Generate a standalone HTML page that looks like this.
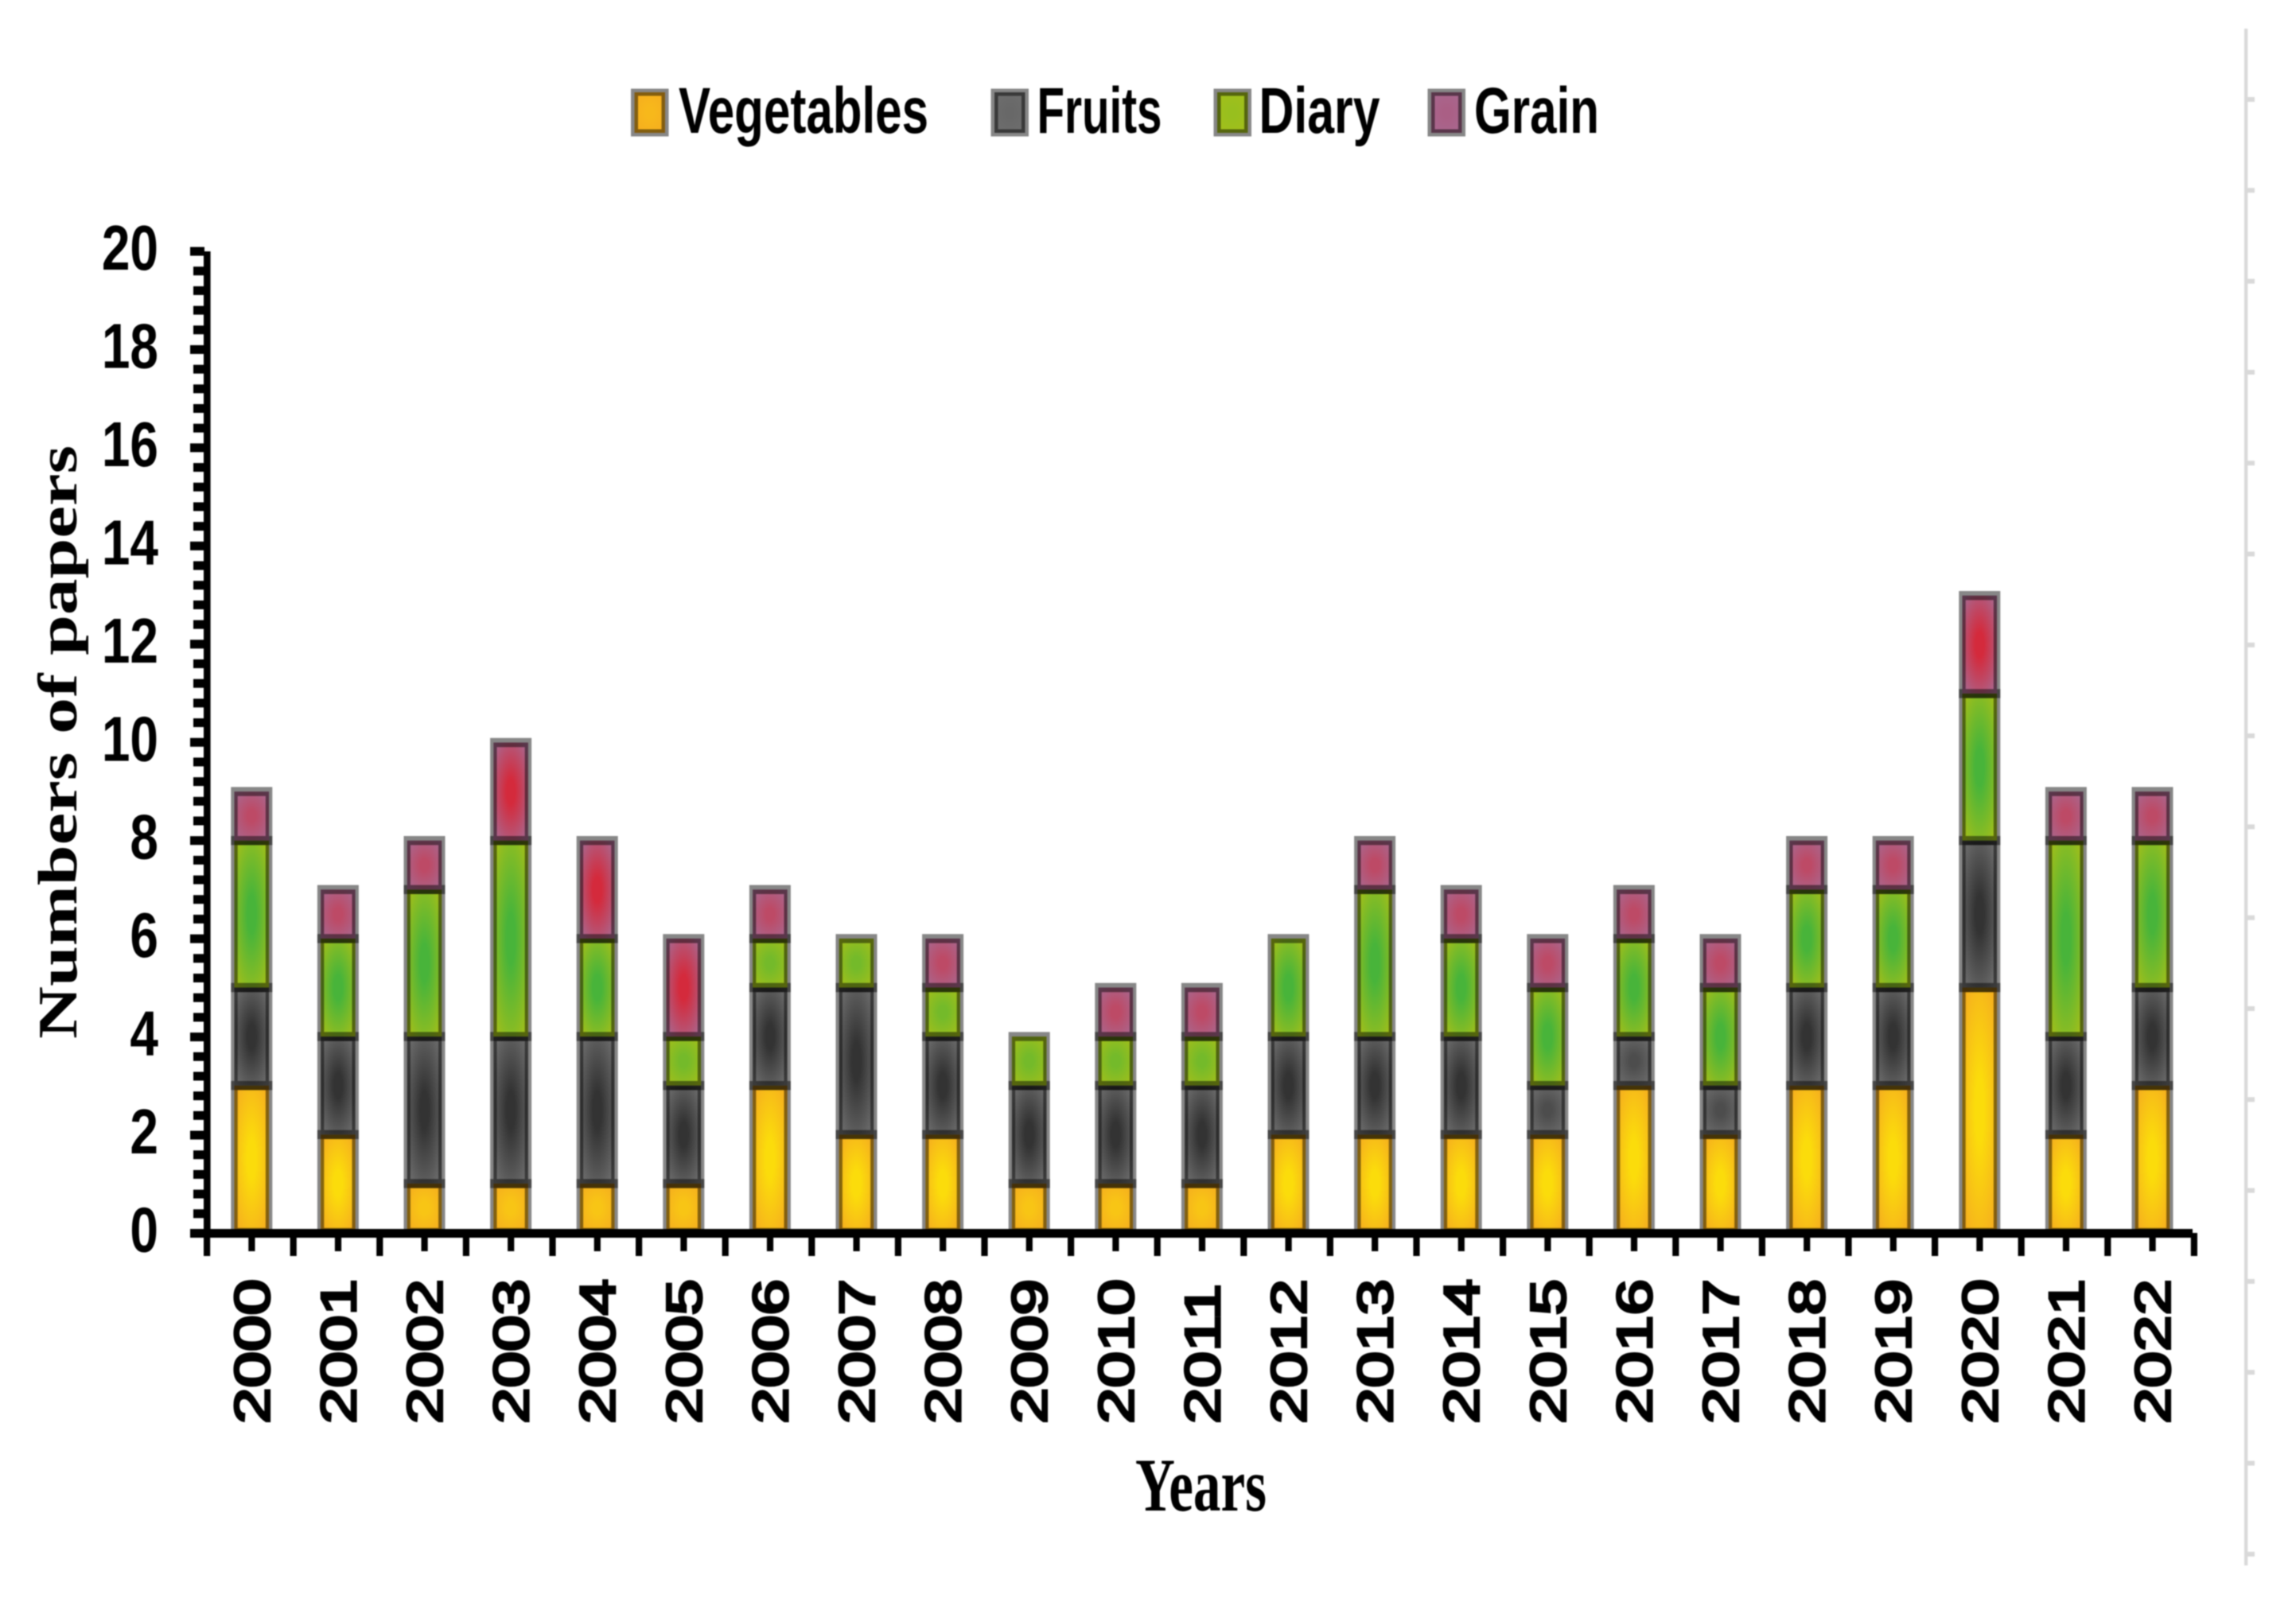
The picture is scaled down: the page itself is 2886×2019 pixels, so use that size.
<!DOCTYPE html>
<html lang="en">
<head>
<meta charset="utf-8">
<title>Numbers of papers by year</title>
<style>
  html, body { margin: 0; padding: 0; background: #fff; }
  #chart { display: block; width: 2886px; height: 2019px; filter: blur(0.7px); }
  .sans { font-family: "Liberation Sans", sans-serif; font-weight: 700; fill: #000; }
  .sans-light { font-family: "Liberation Sans", sans-serif; font-weight: 400; fill: #000; stroke: #000; stroke-width: 3.2; }
  .serif { font-family: "Liberation Serif", serif; font-weight: 700; fill: #000; }
</style>
</head>
<body>
<svg id="chart" xmlns="http://www.w3.org/2000/svg" width="2886" height="2019" viewBox="0 0 2886 2019">
  <defs id="defs"></defs>
  <rect x="0" y="0" width="2886" height="2019" fill="#fff"></rect>

  <g id="marks"></g>
  <g id="axes"></g>

  <g>
    <g>
      <rect x="797.5" y="116" width="38.5" height="51" fill="url(#legend-vegetables)" stroke="#000" stroke-opacity="0.47" stroke-width="9"></rect>
      <text class="sans" x="853" y="167" font-size="82" textLength="314" lengthAdjust="spacingAndGlyphs">Vegetables</text>
    </g>
    <g>
      <rect x="1250" y="116" width="38.5" height="51" fill="url(#legend-fruits)" stroke="#000" stroke-opacity="0.47" stroke-width="9"></rect>
      <text class="sans" x="1303.5" y="167" font-size="82" textLength="157" lengthAdjust="spacingAndGlyphs">Fruits</text>
    </g>
    <g>
      <rect x="1530" y="116" width="38.5" height="51" fill="url(#legend-diary)" stroke="#000" stroke-opacity="0.47" stroke-width="9"></rect>
      <text class="sans" x="1582.5" y="167" font-size="82" textLength="152" lengthAdjust="spacingAndGlyphs">Diary</text>
    </g>
    <g>
      <rect x="1799" y="116" width="38.5" height="51" fill="url(#legend-grain)" stroke="#000" stroke-opacity="0.47" stroke-width="9"></rect>
      <text class="sans" x="1853" y="167" font-size="82" textLength="157" lengthAdjust="spacingAndGlyphs">Grain</text>
    </g>
  </g>

  <text class="serif" transform="translate(96,1306) rotate(-90)" font-size="70" textLength="746" lengthAdjust="spacingAndGlyphs">Numbers of papers</text>
  <text class="serif" x="1427" y="1899" font-size="95" textLength="165" lengthAdjust="spacingAndGlyphs">Years</text>

  <g id="side-rule"></g>
</svg>

<script>
const years = ["2000","2001","2002","2003","2004","2005","2006","2007","2008","2009","2010","2011","2012","2013","2014","2015","2016","2017","2018","2019","2020","2021","2022"];
const vegetables = [3,2,1,1,1,1,3,2,2,1,1,1,2,2,2,2,3,2,3,3,5,2,3];
const fruits     = [2,2,3,3,3,2,2,3,2,2,2,2,2,2,2,1,1,1,2,2,3,2,2];
const diary      = [3,2,3,4,2,1,1,1,1,1,1,1,2,3,2,2,2,2,2,2,3,4,3];
const grain      = [1,1,1,2,2,2,1,0,1,0,1,1,0,1,1,1,1,1,1,1,2,1,1];
const yTickLabels = [0,2,4,6,8,10,12,14,16,18,20];

const seriesNames = ["vegetables","fruits","diary","grain"];
const seriesValues = [vegetables, fruits, diary, grain];
const edgeColors = ["#f5ad1f","#6e6e6e","#a3bf1a","#a8688f"];
const centerColors = ["#fbdc0b","#333333","#48b43a","#d42a3c"];
const smallCenterColors = ["#f8c515","#4d4d4d","#74ba2a","#bd4a66"];
const legendCenterColors = ["#f7b81b","#686868","#98bf1e","#aa5f85"];

const SVG_NS = "http://www.w3.org/2000/svg";
const defs = document.getElementById("defs");
const marks = document.getElementById("marks");
const axes = document.getElementById("axes");
const sideRule = document.getElementById("side-rule");

const yMax = 20;
const plotBottom = 1549.5;
const unitHeight = 61.6;
const axisBottom = 1550.5;
const axisTop = 316;
const firstCenter = 316.3;
const categoryStep = 108.6;
const barWidth = 43.6;
const axisLeft = 260;
const borderX = 4.2;
const borderY = 5.7;

function yScale(v) { return plotBottom - v * unitHeight; }
function yAxisScale(v) { return axisBottom - (v / yMax) * (axisBottom - axisTop); }
function xCenter(i) { return firstCenter + i * categoryStep; }
function xBoundary(i) { return axisLeft + i * categoryStep; }

function make(tag, attrs, parent) {
  const el = document.createElementNS(SVG_NS, tag);
  for (const k in attrs) el.setAttribute(k, attrs[k]);
  parent.appendChild(el);
  return el;
}

function addGradient(id, center, edge, plateau) {
  const g = make("radialGradient", { id: id, cx: "50%", cy: "50%", r: "64%" }, defs);
  make("stop", { offset: "0%", "stop-color": center }, g);
  make("stop", { offset: plateau, "stop-color": center }, g);
  make("stop", { offset: "100%", "stop-color": edge }, g);
}

function rectPath(x0, y0, x1, y1) {
  return "M" + x0 + " " + y0 + "H" + x1 + "V" + y1 + "H" + x0 + "Z";
}

seriesNames.forEach(function (name, s) {
  addGradient("big-" + name, centerColors[s], edgeColors[s], "20%");
  addGradient("small-" + name, smallCenterColors[s], edgeColors[s], "20%");
  addGradient("legend-" + name, legendCenterColors[s], edgeColors[s], "20%");
});

/* stacked bars, bottom to top */
years.forEach(function (year, i) {
  const group = make("g", {}, marks);
  
  
  let base = 0;
  seriesNames.forEach(function (name, s) {
    const v = seriesValues[s][i];
    if (v <= 0) return;
    const top = base + v;
    const left = xCenter(i) - barWidth / 2;
    const right = left + barWidth;
    const yTop = yScale(top);
    const yBase = yScale(base);
    const rect = make("rect", {
      x: left,
      y: yTop,
      width: barWidth,
      height: yBase - yTop,
      fill: "url(#" + (v === 1 ? "small-" : "big-") + name + ")"
    }, group);
    
    
    const border = make("path", {
      d: rectPath(left - borderX, yTop - borderY, right + borderX, yBase + borderY) +
         rectPath(left + borderX, yTop + borderY, right - borderX, yBase - borderY),
      "fill-rule": "evenodd",
      fill: "#000",
      "fill-opacity": 0.47
    }, group);
    
    
    base = top;
  });
});

/* y axis */
const yLine = make("rect", { x: 256, y: axisTop, width: 8.6, height: axisBottom - axisTop, fill: "#000" }, axes);



yTickLabels.forEach(function (v, idx) {
  const y = yAxisScale(v);
  const tick = make("rect", { x: 239, y: y - 5.5, width: 18, height: 11, fill: "#000" }, axes);
  
  

  const label = make("text", {
    class: "sans",
    transform: "translate(199," + (y + 23) + ") scale(0.8,1)",
    "font-size": 80,
    "text-anchor": "end"
  }, axes);
  label.textContent = String(v);
  
  

  if (idx < yTickLabels.length - 1) {
    const next = yTickLabels[idx + 1];
    for (let m = 1; m < 5; m++) {
      const mv = v + (next - v) * m / 5;
      const minor = make("rect", { x: 243, y: yAxisScale(mv) - 5.5, width: 14, height: 11, fill: "#000" }, axes);
      
      
    }
  }
});

/* x axis */
const xLine = make("rect", { x: 239, y: 1545, width: 2517, height: 11, fill: "#000" }, axes);



for (let i = 0; i <= years.length; i++) {
  const boundary = make("rect", { x: xBoundary(i) - 4, y: 1550, width: 8.2, height: 29, fill: "#000" }, axes);
  
  
}

years.forEach(function (year, i) {
  const cx = xCenter(i);
  const tick = make("rect", { x: cx - 4, y: 1550, width: 8.2, height: 23, fill: "#000" }, axes);
  
  

  const label = make("text", {
    class: "sans-light",
    transform: "translate(" + (cx + 22) + ",1790) rotate(-90) scale(1.32,1)",
    "font-size": 62
  }, axes);
  label.textContent = year;
  
  
});

/* faint rule at the right edge of the source figure */
const ruleLine = make("rect", { x: 2821, y: 36, width: 4.3, height: 1932, fill: "#d9d9d9" }, sideRule);


for (let t = 0; t < 17; t++) {
  const ruleTick = make("rect", { x: 2824, y: 122 + t * 114.3, width: 10, height: 6, fill: "#d9d9d9" }, sideRule);
  
  
}
</script>
</body>
</html>
